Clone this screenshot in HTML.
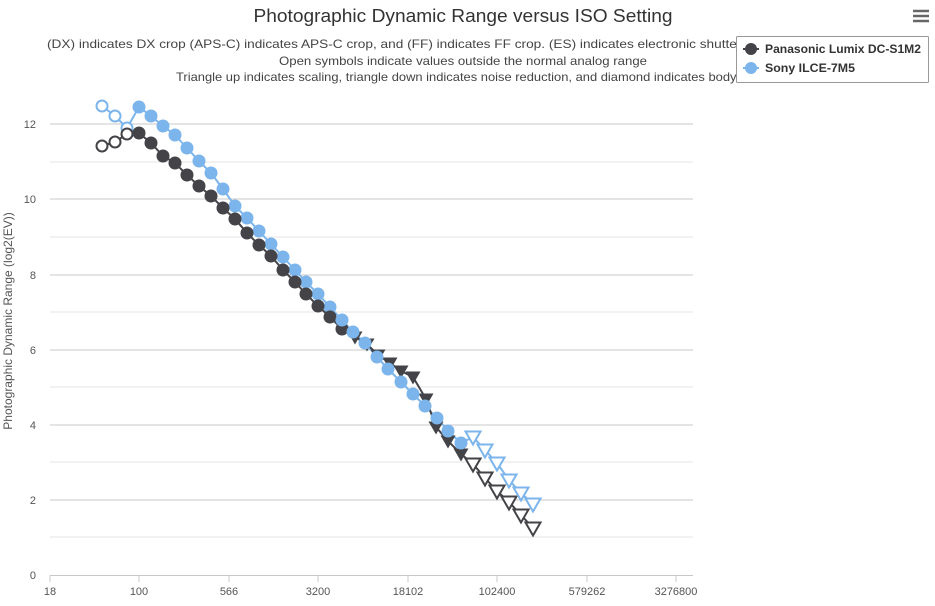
<!DOCTYPE html>
<html><head><meta charset="utf-8"><style>
body{margin:0;background:#fff}
svg{display:block;font-family:"Liberation Sans",sans-serif}
</style></head><body>
<svg width="935" height="606" viewBox="0 0 935 606">
<text x="463" y="22" text-anchor="middle" font-size="18" fill="#333" textLength="419" lengthAdjust="spacingAndGlyphs">Photographic Dynamic Range versus ISO Setting</text>
<g font-size="12" fill="#444" text-anchor="start">
<text x="47" y="48" textLength="840" lengthAdjust="spacingAndGlyphs">(DX) indicates DX crop (APS-C) indicates APS-C crop, and (FF) indicates FF crop. (ES) indicates electronic shutter. (p) indicates pixel shift.</text>
<text x="279" y="65" textLength="368" lengthAdjust="spacingAndGlyphs">Open symbols indicate values outside the normal analog range</text>
<text x="176" y="81" textLength="600" lengthAdjust="spacingAndGlyphs">Triangle up indicates scaling, triangle down indicates noise reduction, and diamond indicates body-based</text>
</g>
<g stroke="#666" stroke-width="2.5"><line x1="913" y1="11" x2="929" y2="11"/><line x1="913" y1="16" x2="929" y2="16"/><line x1="913" y1="21" x2="929" y2="21"/></g>
<g stroke-width="1">
<line x1="50" x2="693" y1="124" y2="124" stroke="#c8c8c8"/>
<line x1="50" x2="693" y1="162" y2="162" stroke="#e6e6e6"/>
<line x1="50" x2="693" y1="199" y2="199" stroke="#c8c8c8"/>
<line x1="50" x2="693" y1="237" y2="237" stroke="#e6e6e6"/>
<line x1="50" x2="693" y1="275" y2="275" stroke="#c8c8c8"/>
<line x1="50" x2="693" y1="312" y2="312" stroke="#e6e6e6"/>
<line x1="50" x2="693" y1="350" y2="350" stroke="#c8c8c8"/>
<line x1="50" x2="693" y1="387" y2="387" stroke="#e6e6e6"/>
<line x1="50" x2="693" y1="425" y2="425" stroke="#c8c8c8"/>
<line x1="50" x2="693" y1="462" y2="462" stroke="#e6e6e6"/>
<line x1="50" x2="693" y1="500" y2="500" stroke="#c8c8c8"/>
<line x1="50" x2="693" y1="537" y2="537" stroke="#e6e6e6"/>
<line x1="50" x2="693" y1="575.5" y2="575.5" stroke="#c8c8c8"/>
</g>
<g stroke="#c8c8c8"><line x1="50" y1="575" x2="50" y2="582"/><line x1="139" y1="575" x2="139" y2="582"/><line x1="229" y1="575" x2="229" y2="582"/><line x1="318" y1="575" x2="318" y2="582"/><line x1="408" y1="575" x2="408" y2="582"/><line x1="497" y1="575" x2="497" y2="582"/><line x1="587" y1="575" x2="587" y2="582"/><line x1="676" y1="575" x2="676" y2="582"/></g>
<g font-size="11" fill="#555" text-anchor="end">
<text x="36" y="128">12</text><text x="36" y="203">10</text><text x="36" y="279">8</text><text x="36" y="354">6</text><text x="36" y="429">4</text><text x="36" y="504">2</text><text x="36" y="579">0</text>
</g>
<g font-size="11" fill="#555" text-anchor="middle">
<text x="50" y="595">18</text><text x="139" y="595">100</text><text x="229" y="595">566</text><text x="318" y="595">3200</text><text x="408" y="595">18102</text><text x="497" y="595">102400</text><text x="587" y="595">579262</text><text x="676" y="595">3276800</text>
</g>
<text transform="translate(12,321) rotate(-90)" font-size="12" fill="#555" text-anchor="middle">Photographic Dynamic Range (log2(EV))</text>

<defs>
<path id="tri" d="M-7.5,-5.5 L7.5,-5.5 L0,7.5 Z"/>
</defs>
<!-- Sony -->
<polyline fill="none" stroke="#7cb5ec" stroke-width="2" points="102,106 115,116 127,128 139,107 151,116 163,126 175,135 187,148 199,161 211,173 223,189 235,206 247,218 259,231 271,244 283,257 295,270 306,282 318,294 330,307 342,320 353,332 365,343 377,357 388,369 401,382 413,394 425,406 437,418 448,431 461,443 473,437 485,450 497,463 509,480 521,493 533,504"/>
<g fill="#fff" stroke="#7cb5ec" stroke-width="2">
<circle cx="102" cy="106" r="5.5"/><circle cx="115" cy="116" r="5.5"/><circle cx="127" cy="128" r="5.5"/>
</g>
<g fill="#7cb5ec">
<circle cx="139" cy="107" r="6.5"/><circle cx="151" cy="116" r="6.5"/><circle cx="163" cy="126" r="6.5"/><circle cx="175" cy="135" r="6.5"/><circle cx="187" cy="148" r="6.5"/><circle cx="199" cy="161" r="6.5"/><circle cx="211" cy="173" r="6.5"/><circle cx="223" cy="189" r="6.5"/><circle cx="235" cy="206" r="6.5"/><circle cx="247" cy="218" r="6.5"/><circle cx="259" cy="231" r="6.5"/><circle cx="271" cy="244" r="6.5"/><circle cx="283" cy="257" r="6.5"/><circle cx="295" cy="270" r="6.5"/><circle cx="306" cy="282" r="6.5"/><circle cx="318" cy="294" r="6.5"/><circle cx="330" cy="307" r="6.5"/>
</g>
<!-- Panasonic -->
<polyline fill="none" stroke="#434348" stroke-width="2" points="102,146 115,142 127,134 139,133 151,143 163,156 175,163 187,175 199,186 211,196 223,208 235,219 247,233 259,245 271,256 283,270 295,282 306,294 318,306 330,317 342,329 355,337 367,344 378,355 390,363 401,371 413,377 426,399 436,427 448,441 461,454 473,464 485,478 497,491 509,502 521,515 533,528"/>
<g fill="#fff" stroke="#434348" stroke-width="2">
<circle cx="102" cy="146" r="5.5"/><circle cx="115" cy="142" r="5.5"/><circle cx="127" cy="134" r="5.5"/>
</g>
<g fill="#434348">
<circle cx="139" cy="133" r="6.5"/><circle cx="151" cy="143" r="6.5"/><circle cx="163" cy="156" r="6.5"/><circle cx="175" cy="163" r="6.5"/><circle cx="187" cy="175" r="6.5"/><circle cx="199" cy="186" r="6.5"/><circle cx="211" cy="196" r="6.5"/><circle cx="223" cy="208" r="6.5"/><circle cx="235" cy="219" r="6.5"/><circle cx="247" cy="233" r="6.5"/><circle cx="259" cy="245" r="6.5"/><circle cx="271" cy="256" r="6.5"/><circle cx="283" cy="270" r="6.5"/><circle cx="295" cy="282" r="6.5"/><circle cx="306" cy="294" r="6.5"/><circle cx="318" cy="306" r="6.5"/><circle cx="330" cy="317" r="6.5"/><circle cx="342" cy="329" r="6.5"/>
<use href="#tri" x="355" y="337"/><use href="#tri" x="367" y="344"/><use href="#tri" x="378" y="355"/><use href="#tri" x="390" y="363"/><use href="#tri" x="401" y="371"/><use href="#tri" x="413" y="377"/><use href="#tri" x="426" y="399"/><use href="#tri" x="436" y="427"/><use href="#tri" x="448" y="441"/><use href="#tri" x="461" y="454"/>
</g>
<g fill="#fff" stroke="#434348" stroke-width="2">
<use href="#tri" x="473" y="464"/><use href="#tri" x="485" y="478"/><use href="#tri" x="497" y="491"/><use href="#tri" x="509" y="502"/><use href="#tri" x="521" y="515"/><use href="#tri" x="533" y="528"/>
</g>
<g fill="#7cb5ec">
<circle cx="342" cy="320" r="6.5"/><circle cx="353" cy="332" r="6.5"/><circle cx="365" cy="343" r="6.5"/><circle cx="377" cy="357" r="6.5"/><circle cx="388" cy="369" r="6.5"/><circle cx="401" cy="382" r="6.5"/><circle cx="413" cy="394" r="6.5"/><circle cx="425" cy="406" r="6.5"/><circle cx="437" cy="418" r="6.5"/><circle cx="448" cy="431" r="6.5"/><circle cx="461" cy="443" r="6.5"/>
</g>
<g fill="#fff" stroke="#7cb5ec" stroke-width="2">
<use href="#tri" x="473" y="437"/><use href="#tri" x="485" y="450"/><use href="#tri" x="497" y="463"/><use href="#tri" x="509" y="480"/><use href="#tri" x="521" y="493"/><use href="#tri" x="533" y="504"/>
</g>
<!-- legend -->
<rect x="736.5" y="36.5" width="192" height="46" fill="#fff" stroke="#999" rx="1"/>
<line x1="743" x2="759" y1="49" y2="49" stroke="#434348" stroke-width="2"/>
<circle cx="751" cy="49" r="6" fill="#434348"/>
<line x1="743" x2="759" y1="68" y2="68" stroke="#7cb5ec" stroke-width="2"/>
<circle cx="751" cy="68" r="6" fill="#7cb5ec"/>
<g font-size="12" font-weight="bold" fill="#333">
<text x="765" y="53" textLength="156" lengthAdjust="spacingAndGlyphs">Panasonic Lumix DC-S1M2</text>
<text x="765" y="72" textLength="90" lengthAdjust="spacingAndGlyphs">Sony ILCE-7M5</text>
</g>
</svg>
</body></html>
